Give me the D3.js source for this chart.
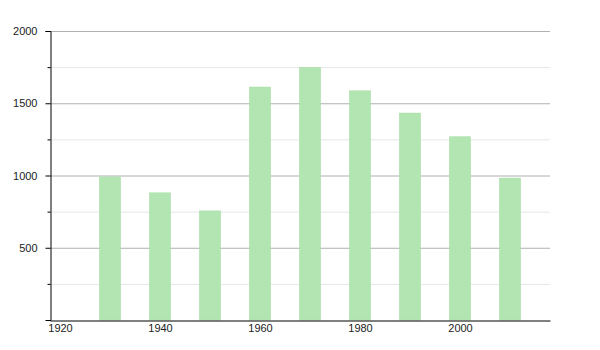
<!DOCTYPE html>
<html>
<head>
<meta charset="utf-8">
<script src="https://cdn.jsdelivr.net/npm/d3@7"></script>
<style>
  body { margin: 0; background: #fff; }
  text { font-family: "Liberation Sans", Arial, sans-serif; }
</style>
</head>
<body>
<div id="chart"></div>
<script>
// population by census year
var years = [1930, 1940, 1950, 1960, 1970, 1980, 1990, 2000, 2010];
var values = [990, 880, 755, 1612, 1748, 1586, 1432, 1268, 982];
var yMajor = [500, 1000, 1500, 2000];
var yMinor = [250, 750, 1250, 1750];
var xTicks = [1920, 1940, 1960, 1980, 2000];

var svgWidth = 600;
var svgHeight = 350;
var margin = { top: 31, bottom: 30, left: 50, right: 50 };
var width = svgWidth - margin.left - margin.right;
var height = svgHeight - margin.top - margin.bottom;

var svg = d3.select('#chart')
    .append('svg')
    .attr('width', svgWidth)
    .attr('height', svgHeight);

var chartGroup = svg.append('g')
    .attr('transform', `translate(${margin.left}, ${margin.top})`);

var xScale = d3.scaleLinear()
    .domain([1918, 2018])
    .range([0, width]);
var yScale = d3.scaleLinear()
    .domain([0, 2000])
    .range([height, 0]);

// grid lines
chartGroup.selectAll('line.minor')
    .data(yMinor)
    .enter()
    .append('line')
    .attr('class', 'minor')
    .attr('x1', 0).attr('x2', width)
    .attr('y1', d => yScale(d) + 0.5).attr('y2', d => yScale(d) + 0.5)
    .attr('stroke', '#e6e6e6');

chartGroup.selectAll('line.major')
    .data(yMajor)
    .enter()
    .append('line')
    .attr('class', 'major')
    .attr('x1', 0).attr('x2', width)
    .attr('y1', d => yScale(d) + 0.5).attr('y2', d => yScale(d) + 0.5)
    .attr('stroke', '#b0b0b0');

// bars
var barW = xScale(1934.2) - xScale(1930);
chartGroup.selectAll('rect.bar')
    .data(years)
    .enter()
    .append('rect')
    .attr('class', 'bar')
    .attr('x', d => xScale(d) - barW / 2)
    .attr('y', (d, i) => yScale(values[i]))
    .attr('width', barW)
    .attr('height', (d, i) => height - yScale(values[i]))
    .attr('fill', '#b2e5b2')
    .attr('stroke', '#a8dea8')
    .attr('stroke-width', 0.6);

// y axis
var yAxis = d3.axisLeft(yScale)
    .tickValues(yMajor)
    .tickSize(5)
    .tickFormat(d3.format('d'));
var yG = chartGroup.append('g')
    .attr('transform', 'translate(0.5,0)')
    .call(yAxis);
yG.select('.domain').attr('stroke', '#000');
yG.selectAll('.tick line').attr('stroke', '#000');
yG.selectAll('.tick text')
    .attr('font-family', '"Liberation Sans", Arial, sans-serif')
    .attr('font-size', 11)
    .attr('fill', '#222')
    .attr('x', -13);

yG.selectAll('line.minortick')
    .data(yMinor)
    .enter()
    .append('line')
    .attr('class', 'minortick')
    .attr('x1', -3).attr('x2', 0)
    .attr('y1', d => yScale(d) + 0.5).attr('y2', d => yScale(d) + 0.5)
    .attr('stroke', '#000');

// x axis
var xAxis = d3.axisBottom(xScale)
    .tickValues(xTicks)
    .tickSize(0)
    .tickPadding(4)
    .tickFormat(d3.format('d'));
var xG = chartGroup.append('g')
    .attr('transform', `translate(0,${height + 0.5})`)
    .call(xAxis);
xG.select('.domain').attr('stroke', '#000');
xG.selectAll('.tick text')
    .attr('font-family', '"Liberation Sans", Arial, sans-serif')
    .attr('font-size', 11)
    .attr('fill', '#222');
</script>
</body>
</html>
